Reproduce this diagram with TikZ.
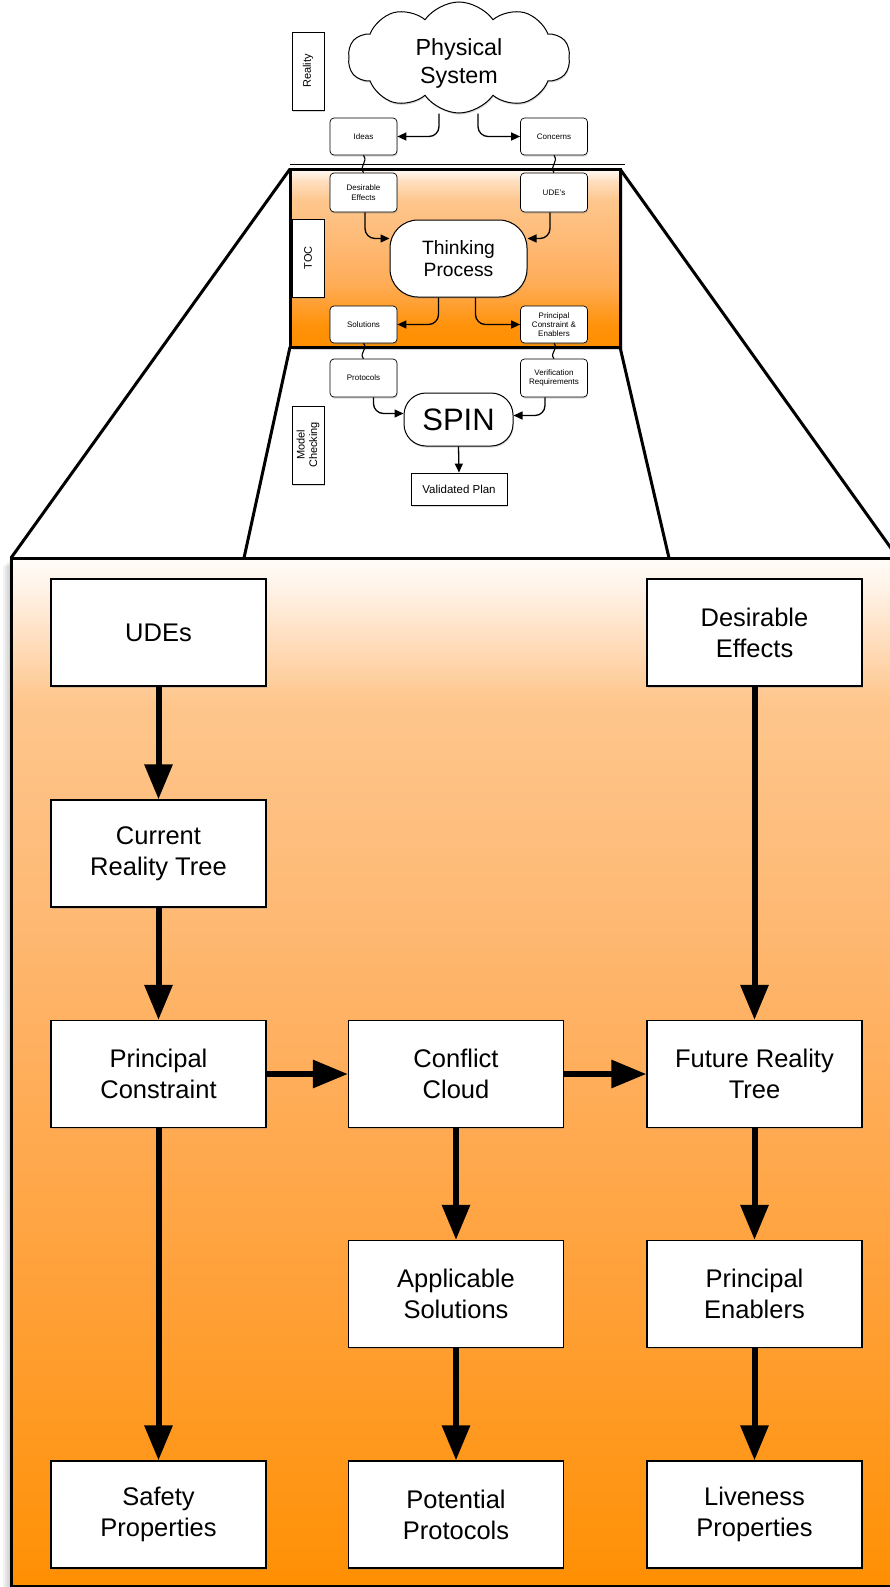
\documentclass[tikz,border=0pt]{standalone}
\usepackage{fontspec}
\setmainfont{Liberation Sans}
\usetikzlibrary{shapes.symbols, arrows.meta, shadows, calc}

% orange fade; the path is mapped onto 25bp (bottom) .. 75bp (top)
\definecolor{orgA}{RGB}{255,143,0}
\definecolor{orgB}{RGB}{255,146,10}
\definecolor{orgC}{RGB}{255,160,55}
\definecolor{orgD}{RGB}{255,172,86}
\definecolor{orgE}{RGB}{254,186,118}
\definecolor{orgF}{RGB}{254,198,140}
\definecolor{orgG}{RGB}{255,222,190}
\definecolor{orgI}{RGB}{255,242,230}
\definecolor{orgH}{RGB}{255,252,248}
\pgfdeclareverticalshading{panelfade}{100bp}{color(0bp)=(orgA); color(25bp)=(orgA); color(26.5bp)=(orgB); color(39bp)=(orgC); color(48.5bp)=(orgD); color(58.5bp)=(orgE); color(68bp)=(orgF); color(71bp)=(orgG); color(73.5bp)=(orgI); color(75bp)=(orgH); color(100bp)=(orgH)}
\pgfdeclareverticalshading{tocfade}{100bp}{color(0bp)=(orgA); color(25bp)=(orgA); color(31bp)=(orgB); color(42.5bp)=(orgD); color(55bp)=(orgE); color(66bp)=(orgF); color(71.5bp)=(orgG); color(75bp)=(orgH); color(100bp)=(orgH)}

\tikzset{
  x=1pt, y=-1pt,
  softshadow/.style={drop shadow={shadow xshift=0.6pt, shadow yshift=-1.6pt, opacity=0.3}},
  bigbox/.style={draw, line width=1.2pt, fill=white, minimum width=215pt, minimum height=107pt,
    align=center, inner sep=2pt, font=\fontsize{25.5pt}{31pt}\selectfont, softshadow},
  smallbox/.style={draw, line width=0.7pt, fill=white, rounded corners=4pt, minimum width=67pt,
    minimum height=37pt, align=center, inner sep=1pt, font=\fontsize{8pt}{9.3pt}\selectfont, softshadow},
  tagbox/.style={draw, line width=0.7pt, fill=white, rotate=90, minimum width=78pt, minimum height=32pt,
    align=center, inner sep=1pt, font=\fontsize{11pt}{12.5pt}\selectfont, softshadow},
  bigarrow/.style={line width=6pt, -{Triangle[width=27pt,length=35pt]}},
  thinarrow/.style={line width=1.3pt, rounded corners=10pt, -{Triangle[width=8pt,length=9pt]}},
  link/.style={line width=1.1pt},
  zoomline/.style={line width=3pt},
}

\begin{document}
\begin{tikzpicture}
\useasboundingbox (0,0) rectangle (890,1587);

% soft halo behind the lower panel
\foreach \k in {2,4,6,8}
  \fill[black, opacity=0.05] (11-\k,558+\k) rectangle (898+\k,1586+\k);

% lower panel and zoomed TOC panel
\node[shade, shading=panelfade, draw, line width=3pt, outer sep=0pt, inner sep=0pt,
      minimum width=887pt, minimum height=1028pt] (panel) at (454.5,1072) {};
\coordinate (zl) at (244,558);
\coordinate (zr) at (669,558);

\node[shade, shading=tocfade, draw, line width=3pt, outer sep=0pt, inner sep=0pt,
      minimum width=330pt, minimum height=178pt,
      drop shadow={shadow xshift=2.5pt, shadow yshift=-2.5pt, opacity=0.3}] (tocpanel) at (455,258) {};

\draw[zoomline] (tocpanel.north west) -- (panel.north west);
\draw[zoomline] (tocpanel.north east) -- (panel.north east);
\draw[zoomline] (tocpanel.south west) -- (zl);
\draw[zoomline] (tocpanel.south east) -- (zr);

% separator line above the TOC panel
\draw[line width=0.8pt] (290,164) -- (625,164);

% upper diagram
\node[cloud, cloud puffs=10, cloud puff arc=110, aspect=2, draw, line width=1pt, fill=white,
      minimum width=222pt, minimum height=111pt, inner sep=0pt, align=center,
      font=\fontsize{23.3pt}{28pt}\selectfont, softshadow] (cloud) at (459,57.5) {\rule{0pt}{28pt}Physical\\System};

\node[tagbox] (reality) at (308,71) {Reality};
\node[tagbox] (toc) at (308,258) {TOC};
\node[tagbox] (mc) at (308,445) {Model\\Checking};

\node[smallbox] (ideas) at (363.5,136.5) {Ideas};
\node[smallbox] (concerns) at (554,136.5) {Concerns};
\node[smallbox, minimum height=39pt] (de) at (363.5,192.5) {Desirable\\Effects};
\node[smallbox, minimum height=39pt] (ude) at (554,192.5) {UDE's};
\node[smallbox] (sol) at (363.5,324.5) {Solutions};
\node[smallbox] (pce) at (554,324.5) {Principal\\Constraint \&\\Enablers};
\node[smallbox, minimum height=38pt] (proto) at (363.5,378) {Protocols};
\node[smallbox, minimum height=38pt] (vr) at (554,378) {Verification\\Requirements};

\node[draw, line width=1pt, fill=white, rounded corners=28pt, minimum width=137pt, minimum height=77pt,
      align=center, font=\fontsize{19.3pt}{22pt}\selectfont, softshadow] (tp) at (458.5,258.5) {Thinking\\Process};
\node[draw, line width=1pt, fill=white, rounded corners=22pt, minimum width=109pt, minimum height=53pt,
      font=\fontsize{31pt}{34pt}\selectfont, softshadow] (spin) at (458.5,419.5) {SPIN};
\node[draw, line width=0.8pt, fill=white, minimum width=96pt, minimum height=32pt,
      font=\fontsize{11.5pt}{13pt}\selectfont, softshadow] (vp) at (459,489) {Validated Plan};

\draw[thinarrow] ([xshift=-20pt]cloud.south) |- (ideas.east);
\draw[thinarrow] ([xshift=19pt]cloud.south) |- (concerns.west);
\draw[link] (ideas.south) .. controls +(5,7) and +(-5,-7) .. (de.north);
\draw[link] (concerns.south) .. controls +(5,7) and +(-5,-7) .. (ude.north);
\draw[thinarrow] ([xshift=1.5pt]de.south) |- ([yshift=20pt]tp.west);
\draw[thinarrow] ([xshift=-4pt]ude.south) |- ([yshift=20pt]tp.east);
\draw[thinarrow] ([xshift=-20pt]tp.south) |- (sol.east);
\draw[thinarrow] ([xshift=17pt]tp.south) |- (pce.west);
\draw[link] (sol.south) .. controls +(5,6) and +(-5,-6) .. (proto.north);
\draw[link] (pce.south) .. controls +(5,6) and +(-5,-6) .. (vr.north);
\draw[thinarrow] ([xshift=10pt]proto.south) |- ([yshift=6pt]spin.west);
\draw[thinarrow] ([xshift=-9pt]vr.south) |- ([yshift=4pt]spin.east);
\draw[thinarrow] (spin.south) -- (vp.north);

% lower diagram
\node[bigbox] (udes) at (158.5,632.5) {UDEs};
\node[bigbox] (crt) at (158.5,853.5) {Current\\Reality Tree};
\node[bigbox] (pc) at (158.5,1074) {Principal\\Constraint};
\node[bigbox] (safety) at (158.5,1514.5) {Safety\\Properties};
\node[bigbox] (cc) at (456,1074) {Conflict\\Cloud};
\node[bigbox] (as) at (456,1294) {Applicable\\Solutions};
\node[bigbox] (pp) at (456,1514.5) {Potential\\Protocols};
\node[bigbox] (deff) at (754.5,632.5) {Desirable\\Effects};
\node[bigbox] (frt) at (754.5,1074) {Future Reality\\Tree};
\node[bigbox] (pe) at (754.5,1294) {Principal\\Enablers};
\node[bigbox] (lp) at (754.5,1514.5) {Liveness\\Properties};

\draw[bigarrow] (udes) -- (crt);
\draw[bigarrow] (crt) -- (pc);
\draw[bigarrow] (pc) -- (safety);
\draw[bigarrow] (pc) -- (cc);
\draw[bigarrow] (cc) -- (frt);
\draw[bigarrow] (deff) -- (frt);
\draw[bigarrow] (cc) -- (as);
\draw[bigarrow] (as) -- (pp);
\draw[bigarrow] (frt) -- (pe);
\draw[bigarrow] (pe) -- (lp);
\end{tikzpicture}
\end{document}
